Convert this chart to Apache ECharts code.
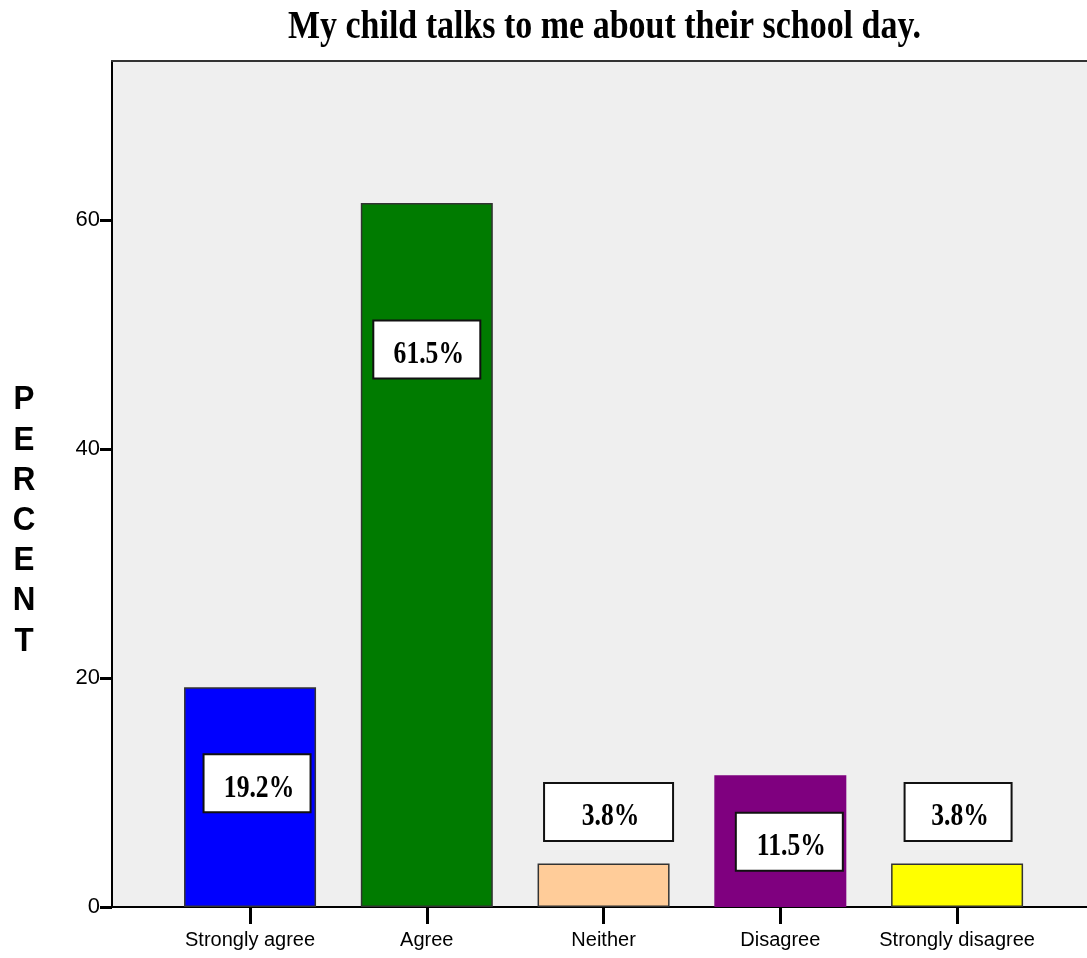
<!DOCTYPE html>
<html>
<head>
<meta charset="utf-8">
<title>My child talks to me about their school day.</title>
<script src="https://cdn.jsdelivr.net/npm/echarts@6/dist/echarts.min.js"></script>
<style>
  html, body { margin: 0; padding: 0; background: #fff; }
  #chart { width: 1087px; height: 958px; }
</style>
</head>
<body>
<div id="chart"></div>
<script>
  const titleText = 'My child talks to me about their school day.';
  const yTitle = 'PERCENT';
  const categories = ['Strongly agree', 'Agree', 'Neither', 'Disagree', 'Strongly disagree'];
  const percents = [19.2, 61.5, 3.8, 11.5, 3.8];
  const percentLabels = ['19.2%', '61.5%', '3.8%', '11.5%', '3.8%'];
  const yTicks = [0, 20, 40, 60];

  // 颜色、标签框的位置（样式，不放在数据里）
  const barColors = ['#0000ff', '#007b00', '#ffcc99', '#7f007f', '#ffff00'];
  const barBorders = ['#333', '#333', '#333', '#7f007f', '#333'];
  const boxCenters = [10.8, 48.7, 8.3, 5.7, 8.3];
  const boxShift = [7, 0, 5, 9, 1];
  const boxWidths = [107, 107, 129, 107, 107];

  const serif = '"Liberation Serif", "Times New Roman", serif';
  const sans = '"Liberation Sans", Arial, sans-serif';

  function textWidth(str, font) {
    const ctx = document.createElement('canvas').getContext('2d');
    ctx.font = font;
    return ctx.measureText(str).width;
  }
  // 标题是压扁的粗体衬线字
  const titleScale = 633 / textWidth(titleText, 'bold 41px ' + serif);

  function renderBox(params, api) {
    const i = params.dataIndex;
    const c = api.coord([api.value(0), boxCenters[i]]);
    const w = boxWidths[i], h = 58;
    const cx = c[0] + boxShift[i], cy = c[1];
    return {
      type: 'group',
      children: [
        {
          type: 'rect',
          shape: {x: cx - w / 2, y: cy - h / 2, width: w, height: h},
          style: {fill: '#fff', stroke: '#111', lineWidth: 2}
        },
        {
          type: 'text',
          x: cx + 2, y: cy + 5, scaleX: 0.8,
          style: {
            text: percentLabels[i], fill: '#000',
            fontFamily: serif, fontWeight: 'bold', fontSize: 32,
            align: 'center', verticalAlign: 'middle'
          }
        }
      ]
    };
  }

  const catIndex = categories.map((c, i) => i);
  const xMin = -0.781, xMax = 4.735;

  const option = {
    animation: false,
    backgroundColor: '#fff',
    // 没有右边框，上边框用第二条x轴画
    grid: {
      left: 112, top: 61, right: 0, bottom: 51,
      show: true, backgroundColor: '#efefef', borderWidth: 0
    },
    graphic: [
      {
        type: 'text', x: 604.5, y: 27, scaleX: titleScale,
        style: {
          text: titleText, fill: '#000',
          fontFamily: serif, fontWeight: 'bold', fontSize: 41,
          align: 'center', verticalAlign: 'middle'
        }
      },
      {
        type: 'text', x: 24, y: 521, scaleX: 0.95,
        style: {
          text: yTitle.split('').join('\n'), fill: '#000',
          fontFamily: sans, fontWeight: 'bold', fontSize: 33, lineHeight: 40.2,
          align: 'center', verticalAlign: 'middle'
        }
      }
    ],
    xAxis: [
      {
        type: 'value',
        min: xMin,
        max: xMax,
        splitLine: {show: false},
        axisLine: {show: true, onZero: false, lineStyle: {color: '#000', width: 2}},
        axisTick: {show: true, length: 17, customValues: catIndex, lineStyle: {color: '#000', width: 3}},
        axisLabel: {
          customValues: catIndex,
          formatter: v => categories[v],
          margin: 23, fontSize: 20, fontFamily: sans, color: '#000'
        }
      },
      {
        type: 'value',
        position: 'top',
        min: xMin,
        max: xMax,
        splitLine: {show: false},
        axisLine: {show: true, onZero: false, lineStyle: {color: '#333', width: 2}},
        axisTick: {show: false},
        axisLabel: {show: false}
      }
    ],
    yAxis: {
      type: 'value',
      min: 0,
      max: 73.9,
      splitLine: {show: false},
      axisLine: {show: true, onZero: false, lineStyle: {color: '#000', width: 2}},
      axisTick: {show: true, length: 12, customValues: yTicks, lineStyle: {color: '#000', width: 3}},
      axisLabel: {customValues: yTicks, margin: 12, fontSize: 22, fontFamily: sans, color: '#000'}
    },
    series: [
      {
        type: 'bar',
        barWidth: 132,
        data: percents.map((v, i) => ({
          value: [i, v],
          itemStyle: {color: barColors[i], borderColor: barBorders[i], borderWidth: 1.5}
        }))
      },
      {
        type: 'custom',
        z: 5,
        silent: true,
        renderItem: renderBox,
        data: percents.map((v, i) => [i, v])
      }
    ]
  };

  const chart = echarts.init(document.getElementById('chart'));
  chart.setOption(option);
</script>
</body>
</html>
